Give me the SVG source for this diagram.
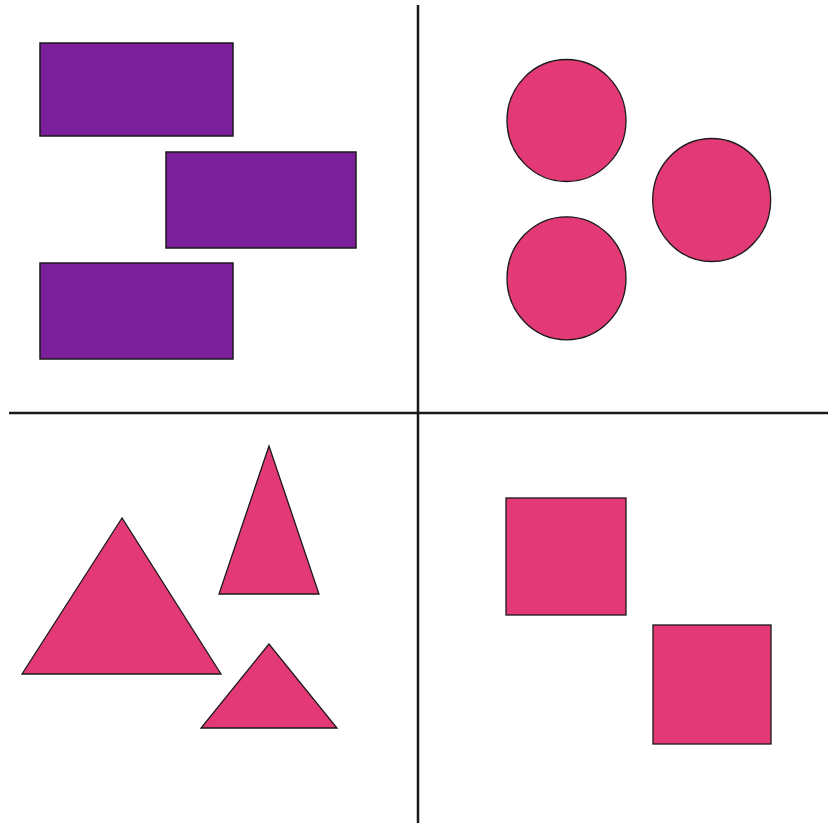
<svg xmlns="http://www.w3.org/2000/svg" width="828" height="823" viewBox="0 0 828 823">
<style>
.rect{fill:#7b1f9b;stroke:#1a1a1a;stroke-width:1.5}
.pink{fill:#e33a77;stroke:#1a1a1a;stroke-width:1.3}
.axis{stroke:#1a1a1a;stroke-width:2.5;fill:none}
</style>
<rect x="0" y="0" width="828" height="823" fill="#ffffff"/>
<g id="axes">
<line class="axis" x1="418" y1="5" x2="418" y2="823"/>
<line class="axis" x1="9" y1="413" x2="828" y2="413"/>
</g>
<g id="rect1"><rect class="rect" x="40" y="43" width="193" height="93"/></g>
<g id="rect2"><rect class="rect" x="166" y="152" width="190" height="96"/></g>
<g id="rect3"><rect class="rect" x="40" y="263" width="193" height="96"/></g>
<g id="circle1"><ellipse class="pink" cx="566.5" cy="120.5" rx="59.5" ry="61"/></g>
<g id="circle2"><ellipse class="pink" cx="711.7" cy="200" rx="59" ry="61.5"/></g>
<g id="circle3"><ellipse class="pink" cx="566.5" cy="278.3" rx="59.5" ry="61.5"/></g>
<g id="tri1"><polygon class="pink" points="122,518 22,674 221,674"/></g>
<g id="tri2"><polygon class="pink" points="269,446 219,594 319,594"/></g>
<g id="tri3"><polygon class="pink" points="269,644 201,728 337,728"/></g>
<g id="square1"><rect class="pink" x="506" y="498" width="120" height="117"/></g>
<g id="square2"><rect class="pink" x="653" y="625" width="118" height="119"/></g>
</svg>
